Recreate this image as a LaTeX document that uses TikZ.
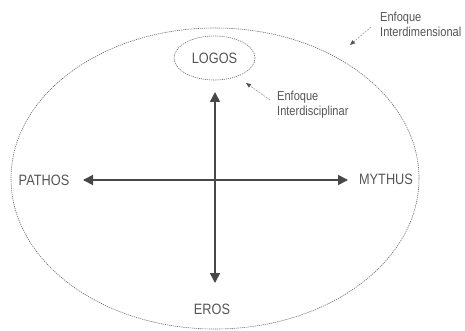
\documentclass[tikz,border=0pt]{standalone}
\usepackage{fontspec}
\setmainfont{Liberation Sans}[FakeStretch=0.85]
\usetikzlibrary{shapes.geometric,arrows.meta}
\definecolor{txt}{HTML}{555555}
\definecolor{axisc}{HTML}{474747}
\definecolor{dashc}{HTML}{6A6A6A}
\definecolor{pointer}{HTML}{A0A0A0}
\definecolor{pointerhead}{HTML}{555555}
\tikzset{
  label/.style={font=\fontsize{15}{17}\selectfont, text=txt, inner sep=1pt},
  note/.style={font=\fontsize{13}{15}\selectfont, text=txt, align=left, inner sep=0pt, anchor=north west},
  ring/.style={ellipse, draw=dashc, line width=0.6pt, dash pattern=on 1.2pt off 0.9pt},
  axisarrow/.style={draw=axisc, line width=1.6pt, {Triangle[length=10pt,width=10pt]}-{Triangle[length=10pt,width=10pt]}},
  pointerarrow/.style={draw=pointer, line width=0.6pt, dash pattern=on 2pt off 1pt, -{Triangle[length=5pt,width=4pt,color=pointerhead]}}
}
\begin{document}
\begin{tikzpicture}[x=1pt,y=-1pt]
\useasboundingbox (0,0) rectangle (465,331);
\node[ring, minimum width=408pt, minimum height=301pt] (outer) at (215,178.5) {};
\node[ring, minimum width=81pt, minimum height=44pt, label] (logos) at (214.5,58) {LOGOS};
\node[label] (pathos) at (44,180) {PATHOS};
\node[label] (mythus) at (386,179) {MYTHUS};
\node[label] (eros) at (212,309) {EROS};
\node[note] (interdisc) at (277,91) {Enfoque\\Interdisciplinar};
\node[note] (interdim) at (380,12) {Enfoque\\Interdimensional};
\coordinate (vtop) at (215,92);
\coordinate (vbot) at (215,283);
\coordinate (hleft) at (83,180);
\coordinate (hright) at (348,180);
\draw[axisarrow] (vbot) -- (vtop);
\draw[axisarrow] (hleft) -- (hright);
\coordinate (p1s) at (270,100);
\coordinate (p1e) at (246,83);
\coordinate (p2s) at (371,27);
\coordinate (p2e) at (350,45);
\draw[pointerarrow] (p1s) -- (p1e);
\draw[pointerarrow] (p2s) -- (p2e);
\end{tikzpicture}
\end{document}
